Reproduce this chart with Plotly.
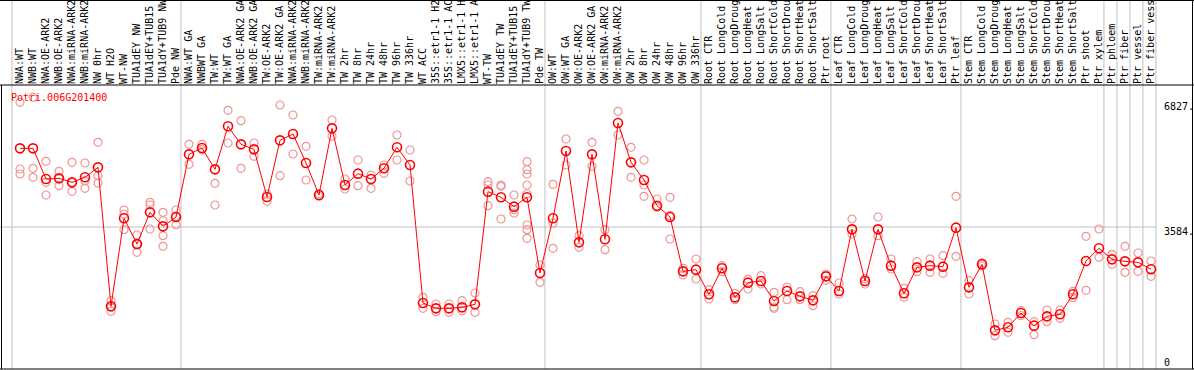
import plotly.graph_objects as go

# ---------------- data ----------------
labels_nw = ["NWA:WT", "NWB:WT", "NWA:OE-ARK2", "NWB:OE-ARK2", "NWA:miRNA-ARK2", "NWB:miRNA-ARK2",
             "NW 0hr", "WT H2O", "WT-NW", "TUA1dEY NW", "TUA1dEY+TUB15 NW", "TUA1dY+TUB9 NW", "Pde NW"]
labels_tw = ["NWA:WT GA", "NWBWT GA", "TW:WT", "TW:WT GA", "NWA:OE-ARK2 GA", "NWB:OE-ARK2 GA",
             "TW:OE-ARK2", "TW:OE-ARK2 GA", "NWA:miRNA-ARK2 GA", "NWB:miRNA-ARK2 GA", "TW:miRNA-ARK2",
             "TW:miRNA-ARK2 GA", "TW 2hr", "TW 8hr", "TW 24hr", "TW 48hr", "TW 96hr", "TW 336hr", "WT ACC",
             "35S::etr1-1 H2O", "35S::etr1-1 ACC", "LMX5::etr1-1 H2O", "LMX5::etr1-1 ACC", "WT-TW",
             "TUA1dEY TW", "TUA1dEY+TUB15 TW", "TUA1dY+TUB9 TW", "Pde TW"]
labels_ow = ["OW:WT", "OW:WT GA", "OW:OE-ARK2", "OW:OE-ARK2 GA", "OW:miRNA-ARK2", "OW:miRNA-ARK2 GA",
             "OW 2hr", "OW 8hr", "OW 24hr", "OW 48hr", "OW 96hr", "OW 336hr"]
labels_root = ["Root CTR", "Root LongCold", "Root LongDrought", "Root LongHeat", "Root LongSalt",
               "Root ShortCold", "Root ShortDrought", "Root ShortHeat", "Root ShortSalt", "Ptr root"]
labels_leaf = ["Leaf CTR", "Leaf LongCold", "Leaf LongDrought", "Leaf LongHeat", "Leaf LongSalt",
               "Leaf ShortCold", "Leaf ShortDrought", "Leaf ShortHeat", "Leaf ShortSalt", "Ptr leaf"]
labels_stem = ["Stem CTR", "Stem LongCold", "Stem LongDrought", "Stem LongHeat", "Stem LongSalt",
               "Stem ShortCold", "Stem ShortDrought", "Stem ShortHeat", "Stem ShortSalt", "Ptr shoot", "Ptr xylem"]
labels_wood = ["Ptr phloem", "Ptr fiber", "Ptr vessel", "Ptr fiber vessel"]

mean_nw = [5569, 5569, 4795, 4812, 4711, 4838, 5090, 1582, 3803, 3155, 3954, 3601, 3836]
mean_tw = [5418, 5578, 5039, 6125, 5670, 5544, 4341, 5771, 5931, 5199, 4392, 6074, 4644, 4930,
           4795, 5065, 5595, 5149, 1666, 1531, 1531, 1556, 1632, 4476, 4333, 4097, 4333, 2423]
mean_ow = [3803, 5502, 3197, 5418, 3273, 6209, 5216, 4770, 4122, 3836, 2465, 2507]
mean_root = [1885, 2541, 1809, 2179, 2221, 1716, 1969, 1834, 1733, 2339]
mean_leaf = [1969, 3525, 2221, 3525, 2608, 1910, 2566, 2608, 2583, 3567]
mean_stem = [2061, 2642, 976, 1052, 1413, 1094, 1329, 1380, 1885, 2726, 3046]
mean_wood = [2768, 2717, 2692, 2516]

reps_nw = [[6730, 5048, 4922], [6857, 5065, 4837], [5241, 4711, 4392], [4989, 4812, 4627],
           [5216, 4711, 4484], [5199, 4753, 4560], [5721, 4880, 4694], [1725, 1455, 1560],
           [4013, 3912, 3517], [3382, 2945, 3150], [4207, 4139, 3533], [3954, 3744, 3365, 3096],
           [4013, 3643, 3850]]
reps_tw = [[5670, 5166], [5670, 5536], [4686, 4139], [6528, 5704], [6268, 5065], [5704, 5368],
           [4417, 4232], [6663, 4880], [6411, 5426], [5620, 4770], [4430, 4360], [6285, 5872],
           [4795, 4543], [5275, 4627], [4896, 4560], [5149, 4938], [5906, 5275], [5527, 4745],
           [1809, 1531], [1641, 1447], [1641, 1430], [1725, 1472], [1918, 1430],
           [4728, 4644, 4122], [4644, 4610, 3786], [4392, 4021, 3937],
           [5233, 5031, 4922, 4644, 4417, 3634, 3517, 3298], [2625, 2187]]
reps_ow = [[4661, 3685, 3046], [5805, 5149], [3365, 3071], [5721, 5115], [3517, 3012], [6503, 5906],
           [5595, 4838], [5275, 4644, 4358], [4291, 4080], [4333, 3870, 3281], [2541, 2372], [2776, 2272]]
reps_root = [[2002, 1767], [2608, 2457], [1910, 1750], [2263, 2019], [2356, 2145], [1935, 1565, 1531],
             [2070, 1750], [1952, 1750], [1851, 1598], [2398, 2238]]
reps_leaf = [[2171, 1893], [3786, 3407], [2280, 2145], [3836, 3365], [2776, 2524], [2036, 1809],
             [2709, 2457], [2776, 2440], [2860, 2415], [4358, 2844]]
reps_stem = [[2229, 1893], [2600, 2680], [1136, 841], [1178, 925], [1472, 1350], [1195, 867],
             [1489, 1195], [1489, 1279], [1960, 1800], [3348, 1985], [3533, 2818]]
reps_wood = [[2894, 2642], [3096, 2440], [2928, 2465], [2726, 2339]]

gene_id = "Potri.006G201400"
y_max_label = 6827
y_mid_label = 3584
y_axis_max = 7168

# ---------------- assemble ----------------
groups = [labels_nw, labels_tw, labels_ow, labels_root, labels_leaf, labels_stem,
          [labels_wood[0]], [labels_wood[1]], [labels_wood[2]], [labels_wood[3]]]
labels = labels_nw + labels_tw + labels_ow + labels_root + labels_leaf + labels_stem + labels_wood
means = mean_nw + mean_tw + mean_ow + mean_root + mean_leaf + mean_stem + mean_wood
reps = reps_nw + reps_tw + reps_ow + reps_root + reps_leaf + reps_stem + reps_wood
xs = list(range(len(labels)))

rx, ry = [], []
for i, r in enumerate(reps):
    for v in r:
        rx.append(i)
        ry.append(v)

W, H = 1194, 370
ML, MR, MT, MB = 0, 0, 85, 1
px_per_cat = 13
first_px = 20
x0 = -first_px / px_per_cat
x1 = x0 + (W - ML - MR) / px_per_cat


def xpaper(v):
    return (v - x0) / (x1 - x0)


plot_h = H - MT - MB
top_paper = 1 + MT / plot_h

fig = go.Figure()
fig.add_trace(go.Scatter(x=rx, y=ry, mode="markers",
                         marker=dict(symbol="circle-open", size=8, color="#ef9696",
                                     line=dict(width=1.2, color="#ef9696")),
                         hoverinfo="skip", showlegend=False, cliponaxis=False))
fig.add_trace(go.Scatter(x=xs, y=means, mode="lines+markers",
                         line=dict(color="#ff0000", width=1),
                         marker=dict(symbol="circle-open", size=9, color="#ff0000",
                                     line=dict(width=1.6, color="#ff0000")),
                         showlegend=False, cliponaxis=False))

shapes = []
# group separator lines
starts = []
idx = 0
for g in groups:
    starts.append(idx)
    idx += len(g)
starts.append(idx)
for s in starts:
    xp = xpaper(s - 0.62)
    shapes.append(dict(type="line", xref="paper", yref="paper", x0=xp, x1=xp, y0=0, y1=top_paper,
                       line=dict(color="#c0c0c0", width=1), layer="below"))
# horizontal grid line
shapes.append(dict(type="line", xref="paper", yref="y", x0=0, x1=xpaper(starts[-1] - 0.62),
                   y0=y_mid_label, y1=y_mid_label, line=dict(color="#c0c0c0", width=1), layer="below"))
# frame
blk = dict(color="black", width=1)
shapes.append(dict(type="line", xref="paper", yref="paper", x0=0, x1=1, y0=1, y1=1, line=blk))
shapes.append(dict(type="line", xref="paper", yref="paper", x0=0, x1=1, y0=0, y1=0, line=blk))
shapes.append(dict(type="line", xref="paper", yref="paper", x0=1.5 / W, x1=1.5 / W, y0=0, y1=1, line=blk))
shapes.append(dict(type="line", xref="paper", yref="paper", x0=1 - 1.5 / W, x1=1 - 1.5 / W,
                   y0=0, y1=top_paper, line=blk))
shapes.append(dict(type="line", xref="paper", yref="paper", x0=0, x1=1,
                   y0=top_paper - 0.5 / plot_h, y1=top_paper - 0.5 / plot_h, line=blk))

mono = "DejaVu Sans Mono, Liberation Mono, monospace"
annotations = [
    dict(text=gene_id, xref="paper", yref="paper", x=9 / W, y=(H - MB - 97) / plot_h,
         xanchor="left", yanchor="middle", showarrow=False, font=dict(family=mono, size=10, color="#ff0000")),
    dict(text=f"{y_max_label}.", xref="paper", yref="y", x=1162 / W, y=y_max_label, yshift=-8,
         xanchor="left", yanchor="middle", showarrow=False, font=dict(family=mono, size=10, color="black")),
    dict(text=f"{y_mid_label}.", xref="paper", yref="y", x=1162 / W, y=y_mid_label, yshift=-4,
         xanchor="left", yanchor="middle", showarrow=False, font=dict(family=mono, size=10, color="black")),
    dict(text="0", xref="paper", yref="y", x=1162 / W, y=0, yshift=7,
         xanchor="left", yanchor="middle", showarrow=False, font=dict(family=mono, size=10, color="black")),
]

fig.update_layout(
    width=W, height=H,
    margin=dict(l=ML, r=MR, t=MT, b=MB, pad=0, autoexpand=False),
    paper_bgcolor="white", plot_bgcolor="white",
    shapes=shapes, annotations=annotations,
    xaxis=dict(side="top", range=[x0, x1], tickmode="array", tickvals=xs, ticktext=labels,
               tickangle=-90, tickfont=dict(family=mono, size=10, color="black"), automargin=False,
               ticks="", showgrid=False, zeroline=False, showline=False, fixedrange=True),
    yaxis=dict(range=[0, y_axis_max], showticklabels=False, showgrid=False, zeroline=False,
               showline=False, fixedrange=True, automargin=False),
    showlegend=False,
)

fig.write_html("out.html", config={"displayModeBar": False, "staticPlot": False},
               post_script="document.body.style.margin='0';document.body.style.overflow='hidden';"
                           "document.documentElement.style.overflow='hidden';")
